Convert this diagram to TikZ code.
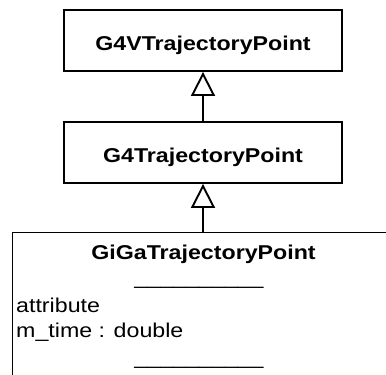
\documentclass[tikz,border=0pt]{standalone}
\usepackage{fontspec}
\setmainfont{Liberation Sans}
\usetikzlibrary{arrows.meta}
% text set slightly wide
\newcommand{\widetext}[1]{\scalebox{1.16}[1]{#1}}
\begin{document}
\begin{tikzpicture}[x=1pt,y=1pt,
  classbox/.style={draw, line width=1.9pt, inner sep=0pt, minimum width=278pt,
    minimum height=61pt, font=\fontsize{20}{23}\selectfont\bfseries,
    text height=19.5pt, text depth=0pt},
  inherit/.style={line width=1.9pt,
    -{Triangle[open, length=24pt, width=24pt, line width=1.9pt]}},
  member/.style={inner sep=0pt, font=\fontsize{20}{23}\selectfont},
  rule/.style={member, anchor=base}]
  \useasboundingbox (0,0) rectangle (386,-375);
  \clip (0,0) rectangle (386,-375);

  % base classes
  \node[classbox] (vtp) at (203,-40.5) {\widetext{G4VTrajectoryPoint}};
  \node[classbox] (tp)  at (203,-152.5) {\widetext{G4TrajectoryPoint}};

  % derived class, running past the lower and right edges
  \node[draw, line width=1.9pt, inner sep=0pt, minimum width=384pt,
        minimum height=200pt, anchor=north west] (giga) at (11.5,-231.5) {};
  \node[member, anchor=base, font=\fontsize{20}{23}\selectfont\bfseries]
        (gname) at (203.5,-259) {\widetext{GiGaTrajectoryPoint}};
  \node[rule] (sep1) at (199,-284.5) {\widetext{\_\_\_\_\_\_\_\_\_\_}};
  \node[member, anchor=base west] (attr) at (16,-312.5) {\widetext{attribute}};
  \node[member, anchor=base west] (mtime) at (16,-337.5) {\widetext{m\_time : double}};
  \node[rule] (sep2) at (199,-364.5) {\widetext{\_\_\_\_\_\_\_\_\_\_}};

  % generalisation arrows
  \draw[inherit] (tp.north) -- (vtp.south);
  \draw[inherit] (giga.north -| tp.south) -- (tp.south);
\end{tikzpicture}
\end{document}
